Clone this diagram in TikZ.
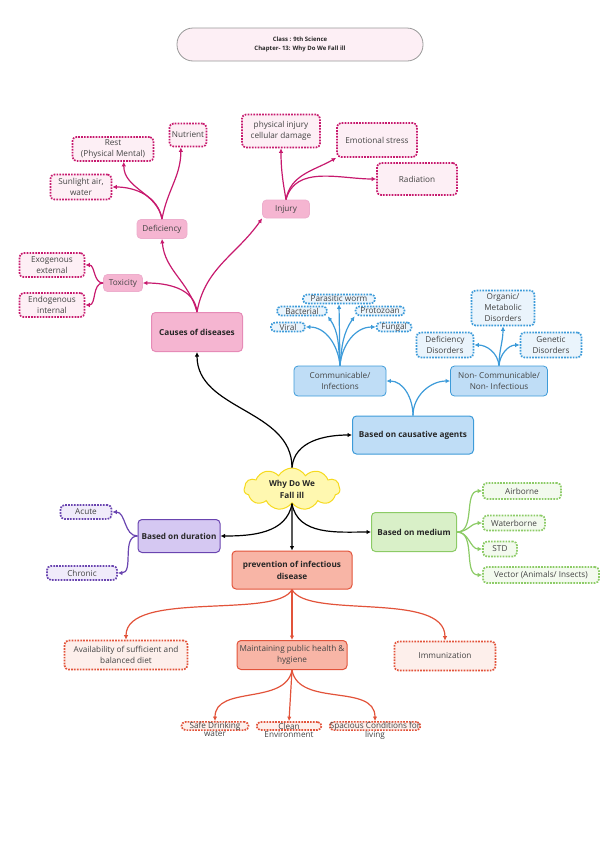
\documentclass[tikz,border=0pt]{standalone}
\usepackage{fontspec}
\setmainfont{Open Sans}
\usetikzlibrary{arrows.meta}
\usetikzlibrary{shapes.symbols}

% branch colours
\definecolor{pinkD}{HTML}{C71A6E}
\definecolor{pinkF}{HTML}{F5B5D1}
\definecolor{pinkB}{HTML}{E68BB7}
\definecolor{pinkL}{HTML}{FDEFF5}
\definecolor{blueD}{HTML}{3D9BD9}
\definecolor{blueF}{HTML}{BFDDF6}
\definecolor{blueB}{HTML}{3D9BD9}
\definecolor{blueL}{HTML}{EAF4FC}
\definecolor{purpD}{HTML}{6A45B0}
\definecolor{purpF}{HTML}{D5C8F2}
\definecolor{purpB}{HTML}{6A45B0}
\definecolor{purpL}{HTML}{F0EBFA}
\definecolor{greenD}{HTML}{8CCB66}
\definecolor{greenF}{HTML}{D9F0C8}
\definecolor{greenB}{HTML}{8CCB66}
\definecolor{greenL}{HTML}{F3FAEE}
\definecolor{orD}{HTML}{E2533A}
\definecolor{orF}{HTML}{F8B5A6}
\definecolor{orB}{HTML}{E2533A}
\definecolor{orL}{HTML}{FDEFEB}
\definecolor{yelF}{HTML}{FFF8B0}
\definecolor{yelD}{HTML}{F6DA1E}
\definecolor{txt}{HTML}{444444}

\tikzset{
	box/.style={rounded corners=4pt, align=center, inner sep=1pt, text=txt,
		font=\fontsize{8.2}{11}\selectfont},
	mainbox/.style={box, draw=#1B, fill=#1F, line width=1pt, text=black!85,
		font=\bfseries\fontsize{8.2}{12}\selectfont},
	subbox/.style={box, draw=#1B, fill=#1F, line width=0.8pt},
	leafbox/.style={box, draw=#1D, fill=#1L, line width=1.7pt,
		dash pattern=on 1.7pt off 1.2pt},
	link/.style={draw=#1, line width=1.2pt, -{Latex[length=4.5pt,width=4.5pt]}},
}

\begin{document}
\begin{tikzpicture}[x=1pt, y=1pt]
	\useasboundingbox (0,0) rectangle (600,-849);

	% title
	\node[box, draw=gray!80, fill=pinkL, rounded corners=16pt, line width=0.8pt,
		minimum width=246pt, minimum height=33pt, text=black!85,
		font=\bfseries\fontsize{6}{8.5}\selectfont] (title) at (300,-44.5)
		{Class : 9th Science\\Chapter- 13: Why Do We Fall ill};

	% centre
	\node[cloud, cloud puffs=11, cloud puff arc=120, aspect=2.4, draw=yelD,
		fill=yelF, line width=1pt, minimum width=96pt, minimum height=42pt,
		inner sep=0pt, align=center, text=black!85,
		font=\bfseries\fontsize{8.2}{12}\selectfont] (fall) at (292,-489)
		{Why Do We\\Fall ill};

	% causes of diseases
	\node[mainbox=pink, minimum width=91pt, minimum height=39pt] (causes) at (197,-332) {Causes of diseases};
	\node[subbox=pink, draw=pinkB!70, minimum width=39pt, minimum height=17pt] (toxicity) at (123,-283) {Toxicity};
	\node[subbox=pink, draw=pinkB!70, minimum width=50pt, minimum height=19pt] (deficiency) at (162,-229) {Deficiency};
	\node[subbox=pink, draw=pinkB!70, minimum width=47pt, minimum height=18pt] (injury) at (286,-209) {Injury};
	\node[leafbox=pink, minimum width=65pt, minimum height=24pt] (exo) at (52,-265) {Exogenous\\external};
	\node[leafbox=pink, minimum width=65pt, minimum height=24pt] (endo) at (52,-305) {Endogenous\\internal};
	\node[leafbox=pink, minimum width=61pt, minimum height=25pt] (sunlight) at (81,-187) {Sunlight air,\\water};
	\node[leafbox=pink, minimum width=81pt, minimum height=24pt] (rest) at (113,-149) {Rest\\(Physical Mental)};
	\node[leafbox=pink, minimum width=37pt, minimum height=23pt] (nutrient) at (188,-135) {Nutrient};
	\node[leafbox=pink, minimum width=78pt, minimum height=33pt] (physical) at (281,-131) {physical injury\\cellular damage};
	\node[leafbox=pink, minimum width=80pt, minimum height=34pt] (emotional) at (377,-140) {Emotional stress};
	\node[leafbox=pink, minimum width=80pt, minimum height=32pt] (radiation) at (417,-179) {Radiation};

	\draw[link=pinkD] (causes.north) to[out=95,in=0] (toxicity.east);
	\draw[link=pinkD] (causes.north) to[out=105,in=-85] (deficiency.south);
	\draw[link=pinkD] (causes.north) to[out=80,in=-125] (injury.south west);
	\draw[link=pinkD] (toxicity.west) to[out=180,in=0] (exo.east);
	\draw[link=pinkD] (toxicity.west) to[out=180,in=0] (endo.east);
	\draw[link=pinkD] (deficiency.north) to[out=100,in=0] (sunlight.east);
	\draw[link=pinkD] (deficiency.north) to[out=100,in=-90] (rest.-50);
	\draw[link=pinkD] (deficiency.north) to[out=80,in=-90] (nutrient.-120);
	\draw[link=pinkD] (injury.north) to[out=100,in=-90] (physical.south);
	\draw[link=pinkD] (injury.north) to[out=80,in=-150] (emotional.south west);
	\draw[link=pinkD] (injury.north) to[out=75,in=180] (radiation.west);

	% based on causative agents
	\node[mainbox=blue, minimum width=121pt, minimum height=38pt] (causative) at (413,-435) {Based on causative agents};
	\node[subbox=blue, minimum width=92pt, minimum height=30pt] (comm) at (340,-381) {Communicable/\\Infections};
	\node[subbox=blue, minimum width=97pt, minimum height=30pt] (noncomm) at (499,-381) {Non- Communicable/\\Non- Infectious};
	\node[leafbox=blue, minimum width=72pt, minimum height=9pt, inner sep=0pt] (parasitic) at (339,-299) {Parasitic worm};
	\node[leafbox=blue, minimum width=50pt, minimum height=9pt, inner sep=0pt] (bacterial) at (302,-311) {Bacterial};
	\node[leafbox=blue, minimum width=49pt, minimum height=9pt, inner sep=0pt] (protozoan) at (380,-311) {Protozoan};
	\node[leafbox=blue, minimum width=34pt, minimum height=9pt, inner sep=0pt] (viral) at (288,-327) {Viral};
	\node[leafbox=blue, minimum width=35pt, minimum height=9pt, inner sep=0pt] (fungal) at (394,-327) {Fungal};
	\node[leafbox=blue, minimum width=63pt, minimum height=35pt, font=\fontsize{8.2}{11}\selectfont] (organic) at (503,-308) {Organic/\\Metabolic\\Disorders};
	\node[leafbox=blue, minimum width=57pt, minimum height=25pt] (defdis) at (445,-345) {Deficiency\\Disorders};
	\node[leafbox=blue, minimum width=61pt, minimum height=25pt] (genetic) at (551,-345) {Genetic\\Disorders};

	\draw[link=blueD] (causative.north) to[out=90,in=0] (comm.east);
	\draw[link=blueD] (causative.north) to[out=90,in=180] (noncomm.west);
	\draw[link=blueD] (comm.north) to[out=95,in=0] (viral.east);
	\draw[link=blueD] (comm.north) to[out=95,in=-55] (bacterial.south east);
	\draw[link=blueD] (comm.north) -- (parasitic.south);
	\draw[link=blueD] (comm.north) to[out=85,in=-125] (protozoan.south west);
	\draw[link=blueD] (comm.north) to[out=85,in=180] (fungal.west);
	\draw[link=blueD] (noncomm.north) to[out=95,in=0] (defdis.east);
	\draw[link=blueD] (noncomm.north) to[out=90,in=-90] (organic.south);
	\draw[link=blueD] (noncomm.north) to[out=85,in=180] (genetic.west);

	% based on duration
	\node[mainbox=purp, minimum width=82pt, minimum height=33pt] (duration) at (179,-536) {Based on duration};
	\node[leafbox=purp, minimum width=51pt, minimum height=14pt] (acute) at (86,-512) {Acute};
	\node[leafbox=purp, minimum width=70pt, minimum height=14pt] (chronic) at (82,-573) {Chronic};

	\draw[link=purpD] (duration.west) to[out=180,in=0] (acute.east);
	\draw[link=purpD] (duration.west) to[out=180,in=0] (chronic.east);

	% based on medium
	\node[mainbox=green, minimum width=85pt, minimum height=39pt] (medium) at (414,-532) {Based on medium};
	\node[leafbox=green, minimum width=78pt, minimum height=16pt] (airborne) at (522,-491) {Airborne};
	\node[leafbox=green, minimum width=62pt, minimum height=15pt] (waterborne) at (514,-523) {Waterborne};
	\node[leafbox=green, minimum width=34pt, minimum height=15pt] (std) at (500,-549) {STD};
	\node[leafbox=green, minimum width=116pt, minimum height=16pt] (vector) at (541,-575) {Vector (Animals/ Insects)};

	\draw[link=greenD] (medium.east) to[out=0,in=180] (airborne.west);
	\draw[link=greenD] (medium.east) to[out=0,in=180] (waterborne.west);
	\draw[link=greenD] (medium.east) to[out=0,in=180] (std.west);
	\draw[link=greenD] (medium.east) to[out=0,in=180] (vector.west);

	% prevention of infectious disease
	\node[mainbox=or, minimum width=120pt, minimum height=38pt] (prevention) at (292,-570) {prevention of infectious\\disease};
	\node[leafbox=or, minimum width=123pt, minimum height=29pt] (availability) at (126,-655) {Availability of sufficient and\\balanced diet};
	\node[subbox=or, line width=1pt, minimum width=110pt, minimum height=29pt] (maintaining) at (292,-655) {Maintaining public health \&\\hygiene};
	\node[leafbox=or, minimum width=101pt, minimum height=29pt] (immunization) at (445,-656) {Immunization};
	\node[leafbox=or, minimum width=67pt, minimum height=8pt, inner sep=0pt,
		label={[box, inner sep=0pt]below:water}] (safe) at (215,-726) {Safe Drinking};
	\node[leafbox=or, minimum width=65pt, minimum height=8pt, inner sep=0pt,
		label={[box, inner sep=0pt]below:Environment}] (clean) at (289,-726) {Clean};
	\node[leafbox=or, minimum width=91pt, minimum height=8pt, inner sep=0pt,
		label={[box, inner sep=0pt]below:living}] (spacious) at (375,-726) {Spacious Conditions for};

	\draw[link=orD] (prevention.south) .. controls +(-15,-30) and +(0,50) .. (availability.north);
	\draw[link=orD] (prevention.south) -- (maintaining.north);
	\draw[link=orD] (prevention.south) .. controls +(15,-30) and +(0,50) .. (immunization.north);
	\draw[link=orD] (maintaining.south) to[out=-100,in=90] (safe.north);
	\draw[link=orD] (maintaining.south) -- (clean.north);
	\draw[link=orD] (maintaining.south) to[out=-80,in=90] (spacious.north);

	% links from the centre
	\draw[link=black] (fall.north) to[out=90,in=-90] (causes.south);
	\draw[link=black] (fall.north) to[out=85,in=180] (causative.west);
	\draw[link=black] (fall.south) to[out=-100,in=0] (duration.east);
	\draw[link=black] (fall.south) to[out=-80,in=180] (medium.west);
	\draw[link=black] (fall.south) -- (prevention.north);

\end{tikzpicture}
\end{document}
